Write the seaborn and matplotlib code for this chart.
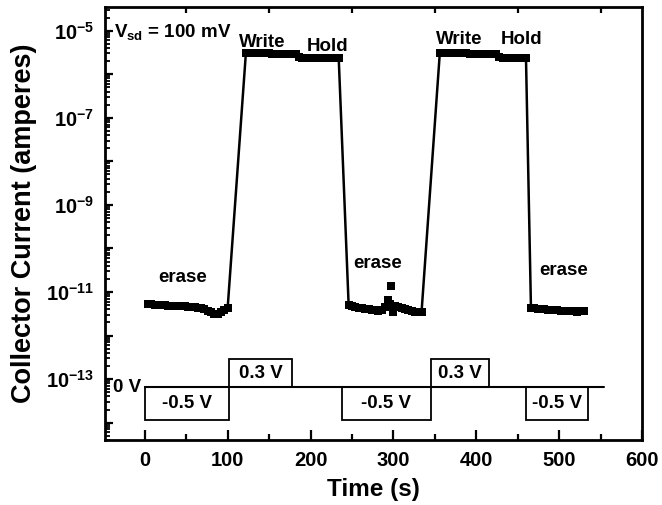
import numpy as np
import pandas as pd
import matplotlib
matplotlib.use("Agg")
import matplotlib.pyplot as plt
import matplotlib.ticker as mticker
import matplotlib.transforms as mtransforms
from matplotlib.patches import Rectangle
import seaborn as sns

# ---------------- data ----------------
# erase 1
t_erase1 = [4, 8, 12, 16, 20, 24, 28, 32, 36, 40, 44, 48, 52, 56, 60, 64, 68, 72, 76, 80, 84, 88, 92, 96, 100]
i_erase1 = [5.3e-12, 5.2e-12, 5.1e-12, 5.1e-12, 5.0e-12, 5.0e-12, 4.9e-12, 4.9e-12, 4.8e-12, 4.8e-12,
            4.7e-12, 4.7e-12, 4.6e-12, 4.6e-12, 4.5e-12, 4.4e-12, 4.3e-12, 4.0e-12, 3.7e-12, 3.4e-12,
            3.2e-12, 3.2e-12, 3.4e-12, 3.8e-12, 4.3e-12]
# write 1 + hold 1
t_on1 = [122, 126, 130, 134, 138, 142, 146, 150, 154, 158, 162, 166, 170, 174, 178, 182,
         186, 190, 194, 198, 202, 206, 210, 214, 218, 222, 226, 230, 234]
i_on1 = [3.05e-6, 3.05e-6, 3.0e-6, 3.0e-6, 3.0e-6, 3.0e-6, 3.0e-6, 3.0e-6, 2.95e-6, 2.95e-6,
         2.95e-6, 2.95e-6, 2.95e-6, 2.9e-6, 2.9e-6, 2.85e-6,
         2.45e-6, 2.4e-6, 2.4e-6, 2.4e-6, 2.4e-6, 2.4e-6, 2.4e-6, 2.4e-6, 2.4e-6, 2.4e-6,
         2.4e-6, 2.4e-6, 2.4e-6]
# erase 2
t_erase2 = [246, 250, 254, 258, 262, 266, 270, 274, 278, 282, 286, 290, 293, 296, 299, 302,
            306, 310, 314, 318, 322, 326, 330, 334]
i_erase2 = [5.0e-12, 4.7e-12, 4.5e-12, 4.4e-12, 4.2e-12, 4.1e-12, 4.0e-12, 3.9e-12, 3.8e-12,
            3.7e-12, 3.8e-12, 4.6e-12, 6.5e-12, 5.2e-12, 3.4e-12, 4.8e-12, 4.5e-12, 4.2e-12,
            4.0e-12, 3.8e-12, 3.6e-12, 3.5e-12, 3.4e-12, 3.5e-12]
# write 2 + hold 2
t_on2 = [356, 360, 364, 368, 372, 376, 380, 384, 388, 392, 396, 400, 404, 408, 412, 416, 420, 424,
         428, 432, 436, 440, 444, 448, 452, 456, 460]
i_on2 = [3.05e-6, 3.05e-6, 3.0e-6, 3.0e-6, 3.0e-6, 3.0e-6, 3.0e-6, 3.0e-6, 3.0e-6, 2.95e-6,
         2.95e-6, 2.95e-6, 2.95e-6, 2.95e-6, 2.9e-6, 2.9e-6, 2.9e-6, 2.85e-6,
         2.45e-6, 2.4e-6, 2.4e-6, 2.4e-6, 2.4e-6, 2.4e-6, 2.4e-6, 2.4e-6, 2.4e-6]
# erase 3
t_erase3 = [466, 470, 474, 478, 482, 486, 490, 494, 498, 502, 506, 510, 514, 518, 522, 526, 530]
i_erase3 = [4.4e-12, 4.2e-12, 4.1e-12, 4.0e-12, 4.0e-12, 3.9e-12, 3.9e-12, 3.8e-12, 3.8e-12,
            3.7e-12, 3.7e-12, 3.6e-12, 3.6e-12, 3.6e-12, 3.5e-12, 3.6e-12, 3.6e-12]
# isolated point
t_outlier = [297]
i_outlier = [1.35e-11]

# gate voltage pulses (start, end, voltage, label)
pulse_start = [0, 102, 238, 345, 460]
pulse_end = [102, 178, 345, 415, 535]
pulse_volt = [-0.5, 0.3, -0.5, 0.3, -0.5]
pulse_label = ["-0.5 V", "0.3 V", "-0.5 V", "0.3 V", "-0.5 V"]
baseline_start, baseline_end = 0, 554

x_ticks = [0, 100, 200, 300, 400, 500, 600]
y_label_exps = [-5, -7, -9, -11, -13]

# ---------------- style ----------------
sns.set_theme(style="white")
plt.rcParams["font.family"] = ["Liberation Sans", "DejaVu Sans"]
plt.rcParams["font.weight"] = "bold"
plt.rcParams["text.color"] = "black"
plt.rcParams["axes.labelcolor"] = "black"
plt.rcParams["xtick.color"] = "black"
plt.rcParams["ytick.color"] = "black"
plt.rcParams["mathtext.fontset"] = "custom"
plt.rcParams["mathtext.rm"] = "Liberation Sans:bold"
plt.rcParams["mathtext.bf"] = "Liberation Sans:bold"
plt.rcParams["mathtext.it"] = "Liberation Sans:bold"

fig = plt.figure(figsize=(6.62, 5.05), dpi=100)
ax = fig.add_axes([105 / 662, 1 - 440 / 505, (642 - 105) / 662, (440 - 7) / 505])

df = pd.DataFrame({
    "t": t_erase1 + t_on1 + t_erase2 + t_on2 + t_erase3,
    "i": i_erase1 + i_on1 + i_erase2 + i_on2 + i_erase3,
})
sns.lineplot(data=df, x="t", y="i", ax=ax, color="black", lw=1.8, marker="s",
             markersize=6, markeredgewidth=0, estimator=None, sort=False)
sns.scatterplot(x=t_outlier, y=i_outlier, ax=ax, color="black", marker="s", s=36, linewidth=0)

ax.set_yscale("log")
ax.set_xlim(-48, 600)
ax.set_ylim(4e-15, 3.5e-5)

# ticks
ax.xaxis.set_major_locator(mticker.FixedLocator(x_ticks))
ax.xaxis.set_minor_locator(mticker.MultipleLocator(50))
ax.set_xticklabels([str(v) for v in x_ticks])
ax.yaxis.set_major_locator(mticker.LogLocator(base=10, numticks=30))
ax.yaxis.set_minor_locator(mticker.LogLocator(base=10, subs=np.arange(2, 10), numticks=30))


def yfmt(v, pos):
    e = int(round(np.log10(v)))
    if e in y_label_exps:
        return r"$\mathbf{10^{%d}}$" % e
    return ""


ax.yaxis.set_major_formatter(mticker.FuncFormatter(yfmt))
ax.yaxis.set_minor_formatter(mticker.NullFormatter())

ax.tick_params(axis="x", which="major", direction="in", length=7, width=1.6, bottom=True, top=False,
               labelsize=14.5, pad=8, colors="black")
ax.tick_params(axis="x", which="minor", direction="in", length=4, width=1.6, bottom=True, top=True,
               colors="black")
ax.tick_params(axis="y", which="major", direction="in", length=6, width=1.6, left=True, right=False,
               labelsize=14.5, pad=8, colors="black")
ax.tick_params(axis="y", which="minor", direction="in", length=3.5, width=1.3, left=True, right=False,
               colors="black")
for lab in ax.get_xticklabels():
    lab.set_fontweight("bold")

for s in ax.spines.values():
    s.set_linewidth(2)
    s.set_color("black")

ax.set_xlabel("Time (s)", fontsize=17.5, fontweight="bold", labelpad=6, color="black")
ax.set_ylabel("Collector Current (amperes)", fontsize=19.5, fontweight="bold", labelpad=6, color="black")

# annotations
fs = 13.5
kw = dict(fontsize=fs, fontweight="bold", color="black")
ax.text(-37, 7.3e-6, r"V$_{\mathbf{sd}}$ = 100 mV", va="baseline", **kw)
ax.text(114, 4.3e-6, "Write", va="baseline", **kw)
ax.text(195, 3.4e-6, "Hold", va="baseline", **kw)
ax.text(352, 5.0e-6, "Write", va="baseline", **kw)
ax.text(429, 5.0e-6, "Hold", va="baseline", **kw)
ax.text(16, 1.73e-11, "erase", va="baseline", **kw)
ax.text(251, 3.5e-11, "erase", va="baseline", **kw)
ax.text(476, 2.4e-11, "erase", va="baseline", **kw)

# gate-voltage waveform (schematic, x in data, y in axes fraction)
trans = mtransforms.blended_transform_factory(ax.transData, ax.transAxes)
y0 = (440 - 387) / 433
h_up = 28 / 433
h_dn = 33 / 433
ax.plot([baseline_start, baseline_end], [y0, y0], transform=trans, color="black", lw=1.5)
for xs, xe, v, lab in zip(pulse_start, pulse_end, pulse_volt, pulse_label):
    h = h_up if v > 0 else -h_dn
    ax.add_patch(Rectangle((xs, y0), xe - xs, h, transform=trans, fill=False,
                           edgecolor="black", lw=1.3))
    ax.text((xs + xe) / 2, y0 + h / 2, lab, transform=trans, ha="center", va="center", **kw)
ax.text(-38, y0, "0 V", transform=trans, ha="left", va="center", **kw)

fig.savefig("out.png", dpi=100)
